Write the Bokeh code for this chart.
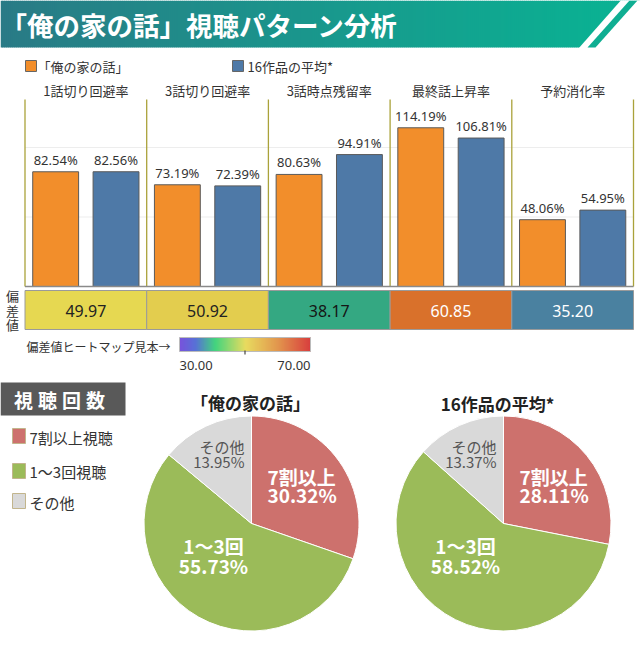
import numpy as np
from bokeh.plotting import figure
from bokeh.models import Range1d
from bokeh.core.properties import value
from bokeh.embed import file_html
from bokeh.resources import INLINE

# ---------------- data ----------------
title = "「俺の家の話」視聴パターン分析"
series_names = ["「俺の家の話」", "16作品の平均*"]
categories = ["1話切り回避率", "3話切り回避率", "3話時点残留率", "最終話上昇率", "予約消化率"]
ore_values = [82.54, 73.19, 80.63, 114.19, 48.06]
avg_values = [82.56, 72.39, 94.91, 106.81, 54.95]
deviation = [49.97, 50.92, 38.17, 60.85, 35.20]
deviation_label = "偏差値"
heat_legend_label = "偏差値ヒートマップ見本→"
heat_low, heat_mid, heat_high = 30.0, 50.0, 70.0
section_title = "視聴回数"
pie_categories = ["7割以上視聴", "1～3回視聴", "その他"]
pie_short = ["7割以上", "1～3回", "その他"]
pie_titles = ["「俺の家の話」", "16作品の平均*"]
ore_pie = [30.32, 55.73, 13.95]
avg_pie = [28.11, 58.52, 13.37]

# ---------------- styles ----------------
JP = value("Noto Sans CJK JP")
NUM = value("Noto Sans")
ORANGE = "#f28e2b"
BLUE = "#4e79a7"
heat_colors = ["#e6d851", "#e3cd4e", "#34a882", "#d9712b", "#4a81a0"]
heat_text_colors = ["#222222", "#222222", "#151515", "#ffffff", "#ffffff"]
pie_colors = ["#cd716d", "#9bbb59", "#d9d9d9"]

W, H = 640, 647
p = figure(width=W, height=H, x_range=Range1d(0, W), y_range=Range1d(H, 0),
           output_backend="svg", toolbar_location=None, tools="", min_border=0,
           x_axis_location=None, y_axis_location=None)
p.grid.visible = False
p.outline_line_color = None
p.background_fill_color = "white"

# panel scale (category units) and percent scale
PX0, PW = 24.5, 121.7
p.extra_x_ranges = {"cx": Range1d((0 - PX0) / PW, (W - PX0) / PW)}
BASE, PPU = 286.0, 1.39
p.extra_y_ranges = {"pct": Range1d((BASE - H) / PPU, (BASE - 0) / PPU)}

# ---------------- header ----------------
xs = np.arange(0, 640, 2.0)
c0 = np.array([0x2a, 0x7b, 0x86]); c1 = np.array([0x0b, 0xb1, 0x93])
cols = ["#%02x%02x%02x" % tuple((c0 + (c1 - c0) * min(t, 1.0)).astype(int)) for t in xs / 600.0]
p.quad(left=xs, right=xs + 2.5, top=0, bottom=47, fill_color=cols, line_color=None)
p.patch([622, 650, 650, 578], [-2, -2, 48, 48], fill_color="white", line_color=None)
p.patch([629, 637, 595, 587], [0, 0, 47, 47], fill_color="#0fae92", line_color=None)
p.text(x=[0], y=[24], text=[title], text_font=JP, text_font_style="bold",
       text_font_size="26.5px", text_color="white", text_baseline="middle")

# ---------------- legend ----------------
p.quad(left=[25, 232], right=[36, 243], top=[60, 60], bottom=[71, 71],
       fill_color=[ORANGE, BLUE], line_color="#666666", line_width=1)
p.text(x=[37, 247], y=[65.5, 65.5], text=series_names, text_font=JP,
       text_font_size="13px", text_color="#333333", text_baseline="middle")

# ---------------- bar panels ----------------
idx = np.arange(len(categories))
p.text(x=idx + 0.5, y=[90] * 5, text=categories, x_range_name="cx", text_font=JP,
       text_font_size="13px", text_color="#333333", text_align="center", text_baseline="middle")
for g in (50, 100):
    p.segment(x0=[0], x1=[5], y0=[g], y1=[g], x_range_name="cx", y_range_name="pct",
              line_color="#ededed", line_width=1)
p.segment(x0=np.arange(6), x1=np.arange(6), y0=[99] * 6, y1=[286] * 6, x_range_name="cx",
          line_color="#aaa23a", line_width=1.3)
off, bw = 0.248, 0.377
for vals, col, d in ((ore_values, ORANGE, -off), (avg_values, BLUE, off)):
    p.vbar(x=idx + 0.5 + d, top=vals, bottom=0, width=bw, fill_color=col,
           line_color="#5a5a5a", line_width=1, x_range_name="cx", y_range_name="pct")
    p.text(x=idx + 0.5 + d, y=vals, text=["%.2f%%" % v for v in vals], x_range_name="cx",
           y_range_name="pct", y_offset=-3, text_font=NUM, text_font_size="13px",
           text_color="#333333", text_align="center", text_baseline="bottom")
p.segment(x0=[0], x1=[5], y0=[0], y1=[0], x_range_name="cx", y_range_name="pct",
          line_color="#8a8a8a", line_width=1.6)

# ---------------- deviation heat row ----------------
p.rect(x=idx + 0.5, y=[309.5] * 5, width=1, height=39, x_range_name="cx",
       fill_color=heat_colors, line_color="#9a9a9a", line_width=1)
p.text(x=idx + 0.5, y=[310] * 5, text=["%.2f" % v for v in deviation], x_range_name="cx",
       text_font=NUM, text_font_size="16px", text_color=heat_text_colors,
       text_align="center", text_baseline="middle")
p.text(x=[12] * 3, y=[295, 309.5, 324], text=list(deviation_label), text_font=JP,
       text_font_size="13px", text_color="#333333", text_align="center", text_baseline="middle")

# heat legend gradient
GX0, GX1 = 179.0, 310.0
stops = [0.0, 0.12, 0.27, 0.5, 0.75, 1.0]
stop_cols = np.array([[0x69, 0x40, 0xd8], [0x45, 0x62, 0xd2], [0x2e, 0xd0, 0x70],
                      [0xe6, 0xd8, 0x4e], [0xdf, 0x8a, 0x3a], [0xd4, 0x28, 0x28]])
gx = np.arange(GX0, GX1, 1.0)
tt = (gx - GX0) / (GX1 - GX0)
rgb = np.stack([np.interp(tt, stops, stop_cols[:, k]) for k in range(3)], axis=1).astype(int)
p.quad(left=gx, right=gx + 1.3, top=337, bottom=351,
       fill_color=["#%02x%02x%02x" % tuple(c) for c in rgb], line_color=None)
p.quad(left=[GX0], right=[GX1], top=[337], bottom=[351], fill_color=None,
       line_color="#bbbbbb", line_width=1)
tick_x = GX0 + (heat_mid - heat_low) / (heat_high - heat_low) * (GX1 - GX0)
p.segment(x0=[tick_x], x1=[tick_x], y0=[350], y1=[354], line_color="#444444", line_width=1.2)
p.text(x=[26], y=[346], text=[heat_legend_label], text_font=JP, text_font_size="12px",
       text_color="#333333", text_baseline="middle")
p.text(x=[GX0, GX1], y=[365, 365], text=["%.2f" % heat_low, "%.2f" % heat_high],
       text_font=NUM, text_font_size="13px", text_color="#333333",
       text_align=["left", "right"], text_baseline="middle")

# ---------------- pie section ----------------
p.quad(left=[0], right=[125], top=[382], bottom=[415], fill_color="#595959", line_color=None)
p.text(x=[23, 47, 71, 95], y=[399] * 4, text=list(section_title), text_font=JP,
       text_font_style="bold", text_font_size="19px", text_color="white",
       text_align="center", text_baseline="middle")
p.quad(left=[12] * 3, right=[25] * 3, top=[428, 463, 493], bottom=[443, 478, 508],
       fill_color=pie_colors, line_color="#c2b58c", line_width=1)
p.text(x=[29] * 3, y=[437, 471, 502], text=pie_categories, text_font=JP,
       text_font_size="15px", text_color="#333333", text_baseline="middle")

R = 107.5
centers = [(251, 523), (503, 523)]
title_pos = [(250, 402), (497, 403)]
# label anchor offsets from the pie centre (red, green, grey), two lines each
lab_dx = [16, -38, -7]
lab_dy = [(-47, -29), (22, 42), (-77, -62)]
lab_align = ["left", "center", "right"]
lab_col = ["white", "white", "#555555"]
lab_style = ["bold", "bold", "normal"]
lab_size = ["19px", "19px", "15px"]
for (cx, cy), (tx, ty), vals, ttl in zip(centers, title_pos, (ore_pie, avg_pie), pie_titles):
    fr = np.array(vals) / np.sum(vals)
    cum = np.concatenate([[0.0], np.cumsum(fr)])
    start = np.pi / 2 - 2 * np.pi * cum[:-1]
    end = np.pi / 2 - 2 * np.pi * cum[1:]
    p.wedge(x=[cx] * 3, y=[cy] * 3, radius=R, radius_units="screen", start_angle=start,
            end_angle=end, direction="clock", fill_color=pie_colors,
            line_color="white", line_width=1)
    p.text(x=[tx], y=[ty], text=[ttl], text_font=JP, text_font_style="bold",
           text_font_size="17px", text_color="#222222", text_align="center",
           text_baseline="middle")
    for k in range(3):
        p.text(x=[cx + lab_dx[k]] * 2, y=[cy + lab_dy[k][0], cy + lab_dy[k][1]],
               text=[pie_short[k], "%.2f%%" % vals[k]], text_font=JP,
               text_font_style=lab_style[k], text_font_size=lab_size[k],
               text_color=lab_col[k], text_align=lab_align[k], text_baseline="middle")

open("out.html", "w").write(file_html(p, INLINE))
